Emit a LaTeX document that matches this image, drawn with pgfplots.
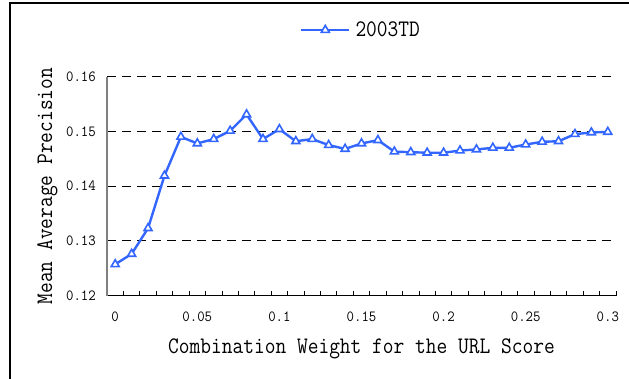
\documentclass[border=0pt]{standalone}
\usepackage{pgfplots}
\pgfplotsset{compat=1.18}
\usepackage{graphicx}
\usepackage{fontspec}
\setmainfont{Liberation Serif}
\definecolor{lineblue}{RGB}{51,102,255}
\newcommand\tk[1]{\scalebox{0.93}[1]{#1}}
\newcommand\bg[1]{\scalebox{0.88}[1]{#1}}
\begin{document}
\begin{tikzpicture}
\path[use as bounding box] (0,0) rectangle (629bp,379bp);
\draw[black, line width=1.6bp] (10bp,0) -- (10bp,375.7bp) -- (629bp,375.7bp);
\begin{axis}[
  at={(107bp,83.5bp)}, anchor=south west,
  scale only axis, width=509bp, height=218.8bp,
  xmin=-0.5, xmax=30.5, ymin=0.12, ymax=0.16,
  axis lines=left, axis line style={-},
  x axis line style={black, line width=0.9bp},
  y axis line style={gray, line width=1.8bp},
  xtick={0,5,10,15,20,25,30},
  xticklabels={\tk{0},\tk{0.05},\tk{0.1},\tk{0.15},\tk{0.2},\tk{0.25},\tk{0.3}},
  minor xtick={-0.5,0.5,...,30.5},
  ytick={0.12,0.13,0.14,0.15,0.16},
  yticklabels={\tk{0.12},\tk{0.13},\tk{0.14},\tk{0.15},\tk{0.16}},
  major tick length=0pt,
  minor tick length=4.5bp,
  tick align=inside,
  every tick/.style={black, line width=0.8bp},
  ymajorgrids,
  major grid style={black, line width=0.8bp, dash pattern=on 9bp off 6bp},
  xticklabel style={font=\ttfamily\fontsize{15.5bp}{18bp}\selectfont, anchor=center, yshift=-21bp},
  yticklabel style={font=\ttfamily\fontsize{15.5bp}{18bp}\selectfont, anchor=east, inner sep=0pt, xshift=-11bp},
  xlabel={\bg{Combination Weight for the URL Score}},
  ylabel={\bg{Mean Average Precision}},
  label style={font=\ttfamily\fontsize{23.7bp}{28bp}\selectfont},
  xlabel style={at={(axis description cs:0.5,-0.2628)}, anchor=base},
  ylabel style={at={(axis description cs:-0.108,0.5)}, anchor=base, rotate=0},
  legend style={draw=none, fill=none, at={(axis description cs:0.379,1.2134)}, anchor=west,
    font=\ttfamily\fontsize{23.7bp}{28bp}\selectfont, inner sep=0pt},
  legend image code/.code={\draw[mark repeat=2,mark phase=2,#1] plot coordinates {(0bp,0bp) (24bp,0bp) (48bp,0bp)};},
]
\addplot[lineblue, line width=2.4bp, mark=triangle*, mark size=4.6bp,
  mark options={fill=white, line width=1.6bp, solid}] coordinates {
(0,0.1257) (1,0.1276) (2,0.1323) (3,0.1419) (4,0.1490) (5,0.1478)
(6,0.1486) (7,0.1501) (8,0.1531) (9,0.1486) (10,0.1504) (11,0.1482)
(12,0.1486) (13,0.1475) (14,0.1468) (15,0.1478) (16,0.1484) (17,0.1463)
(18,0.1462) (19,0.1461) (20,0.1461) (21,0.1465) (22,0.1467) (23,0.1470)
(24,0.1470) (25,0.1476) (26,0.1481) (27,0.1482) (28,0.1495) (29,0.1498)
(30,0.1499)
};
\addlegendentry{\hspace{3bp}\bg{2003TD}}
\end{axis}
\end{tikzpicture}
\end{document}
